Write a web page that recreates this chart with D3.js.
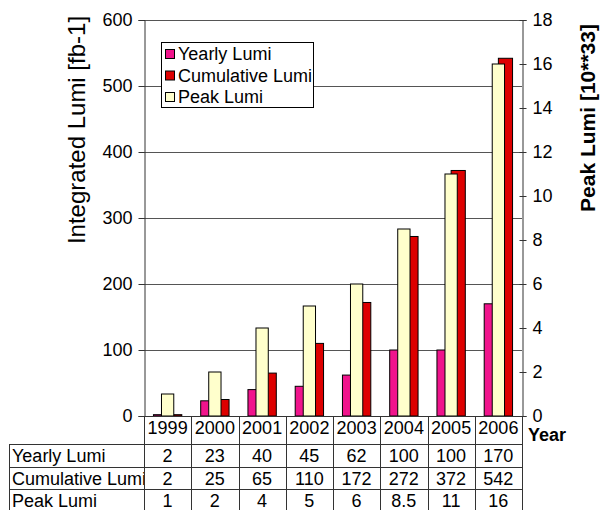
<!DOCTYPE html>
<html>
<head>
<meta charset="utf-8">
<script src="https://cdn.jsdelivr.net/npm/d3@7"></script>
<style>
    body { margin: 0; background: #fff; }
    svg { display: block; font-family: "Liberation Sans", Arial, sans-serif; }
</style>
</head>
<body>
<svg id="chart"></svg>
<script>
const W = 600;
const H = 510;

// data
const years = ["1999", "2000", "2001", "2002", "2003", "2004", "2005", "2006"];
const yearly = [2, 23, 40, 45, 62, 100, 100, 170];
const cumulative = [2, 25, 65, 110, 172, 272, 372, 542];
const peak = [1, 2, 4, 5, 6, 8.5, 11, 16];
const leftTicks = [0, 100, 200, 300, 400, 500, 600];
const rightTicks = [0, 2, 4, 6, 8, 10, 12, 14, 16, 18];
const seriesNames = ["Yearly Lumi", "Cumulative Lumi", "Peak Lumi"];
const seriesColors = ["#f0148c", "#dd0000", "#ffffcc"];

const svg = d3.select("#chart").attr("width", W).attr("height", H);

const plotL = 144, plotR = 522, plotT = 20, plotB = 416;

const x = d3.scaleBand().domain(years).range([plotL, plotR]).padding(0);
const yL = d3.scaleLinear().domain([0, 600]).range([plotB, plotT]);
const yR = d3.scaleLinear().domain([0, 18]).range([plotB, plotT]);

const bw = x.bandwidth();
const barW = bw * 0.3;
const peakW = bw * 0.26;

// gridlines
svg.append("g")
    .selectAll("line")
    .data(leftTicks.slice(1))
    .enter().append("line")
    .attr("x1", plotL).attr("x2", plotR)
    .attr("y1", d => yL(d) + 0.5).attr("y2", d => yL(d) + 0.5)
    .attr("stroke", "#555").attr("stroke-width", 1);

let rows = years.map((y, i) => ({year: y, yearly: yearly[i], cum: cumulative[i], peak: peak[i]}));

let bars = svg.append("g").attr("stroke", "#000").attr("stroke-width", 1);

bars.selectAll(".yr").data(rows).enter().append("rect")
    .attr("x", d => x(d.year) + bw / 2 - barW)
    .attr("width", barW)
    .attr("y", d => yL(d.yearly))
    .attr("height", d => plotB - yL(d.yearly))
    .attr("fill", seriesColors[0]);

bars.selectAll(".cu").data(rows).enter().append("rect")
    .attr("x", d => x(d.year) + bw / 2)
    .attr("width", barW)
    .attr("y", d => yL(d.cum))
    .attr("height", d => plotB - yL(d.cum))
    .attr("fill", seriesColors[1]);

bars.selectAll(".pk").data(rows).enter().append("rect")
    .attr("x", d => x(d.year) + bw / 2 - peakW / 2)
    .attr("width", peakW)
    .attr("y", d => yR(d.peak))
    .attr("height", d => plotB - yR(d.peak))
    .attr("fill", seriesColors[2]);

// axes
let axL = svg.append("g").attr("transform", "translate(" + (plotL + 0.5) + ",0)")
    .call(d3.axisLeft(yL).tickValues(leftTicks).tickSize(6).tickPadding(6));
axL.select(".domain").attr("stroke", "#333");
axL.selectAll(".tick line").attr("stroke", "#333");
axL.selectAll("text").attr("font-size", 18).attr("fill", "#000")
    .attr("font-family", "Liberation Sans, Arial, sans-serif");

let axR = svg.append("g").attr("transform", "translate(" + (plotR + 0.5) + ",0)")
    .call(d3.axisRight(yR).tickValues(rightTicks).tickSize(4).tickPadding(6));
axR.select(".domain").attr("stroke", "#333");
axR.selectAll(".tick line").attr("x1", -3).attr("stroke", "#333");
axR.selectAll("text").attr("font-size", 18).attr("fill", "#000")
    .attr("font-family", "Liberation Sans, Arial, sans-serif");

// base line
svg.append("line")
    .attr("x1", plotL).attr("x2", plotR + 4)
    .attr("y1", plotB + 0.5).attr("y2", plotB + 0.5)
    .attr("stroke", "#333");

// axis titles
svg.append("text")
    .attr("transform", "translate(85,130) rotate(-90)")
    .attr("text-anchor", "middle")
    .attr("font-size", 24)
    .text("Integrated Lumi [fb-1]");

svg.append("text")
    .attr("transform", "translate(595,118) rotate(-90)")
    .attr("text-anchor", "middle")
    .attr("font-size", 21)
    .attr("font-weight", "bold")
    .text("Peak Lumi [10**33]");

svg.append("text")
    .attr("x", 528).attr("y", 441)
    .attr("font-size", 18)
    .attr("font-weight", "bold")
    .text("Year");

// data table
const rowTop = [444, 466.5, 489];
const rowH = 22.5;
const tableLeft = 9;
let table = svg.append("g");

table.selectAll(".hy").data(years).enter().append("text")
    .attr("x", d => x(d) + bw / 2).attr("y", 434)
    .attr("text-anchor", "middle").attr("font-size", 18)
    .text(d => d);

svg.append("clipPath").attr("id", "lab-clip")
    .append("rect").attr("x", 0).attr("y", 440).attr("width", plotL + 1).attr("height", 80);

let tableVals = [yearly, cumulative, peak];
tableVals.forEach(function (vals, r) {
    table.append("text")
        .attr("x", 12).attr("y", rowTop[r] + 18)
        .attr("font-size", 18)
        .attr("clip-path", "url(#lab-clip)")
        .text(seriesNames[r]);
    table.selectAll(".v" + r).data(vals).enter().append("text")
        .attr("x", (d, i) => x(years[i]) + bw / 2).attr("y", rowTop[r] + 18)
        .attr("text-anchor", "middle").attr("font-size", 18)
        .text(d => d);
});

let grid = table.append("g").attr("stroke", "#333").attr("stroke-width", 1);
rowTop.concat([rowTop[2] + rowH]).forEach(function (yy) {
    grid.append("line")
        .attr("x1", tableLeft).attr("x2", plotR)
        .attr("y1", Math.round(yy) + 0.5).attr("y2", Math.round(yy) + 0.5);
});
grid.append("line")
    .attr("x1", tableLeft + 0.5).attr("x2", tableLeft + 0.5)
    .attr("y1", rowTop[0]).attr("y2", H);
years.concat(["end"]).forEach(function (d) {
    let xx = d === "end" ? plotR : x(d);
    grid.append("line")
        .attr("x1", Math.round(xx) + 0.5).attr("x2", Math.round(xx) + 0.5)
        .attr("y1", plotB).attr("y2", H);
});

// legend
let legend = svg.append("g");
legend.append("rect")
    .attr("x", 161.5).attr("y", 42.5).attr("width", 152).attr("height", 65)
    .attr("fill", "#fff").attr("stroke", "#000");
seriesNames.forEach(function (name, i) {
    legend.append("rect")
        .attr("x", 165.5).attr("y", 49.5 + i * 21.5).attr("width", 9).attr("height", 9)
        .attr("fill", seriesColors[i]).attr("stroke", "#000");
    legend.append("text")
        .attr("x", 178).attr("y", 60 + i * 21.5)
        .attr("font-size", 18)
        .text(name);
});
</script>
</body>
</html>
